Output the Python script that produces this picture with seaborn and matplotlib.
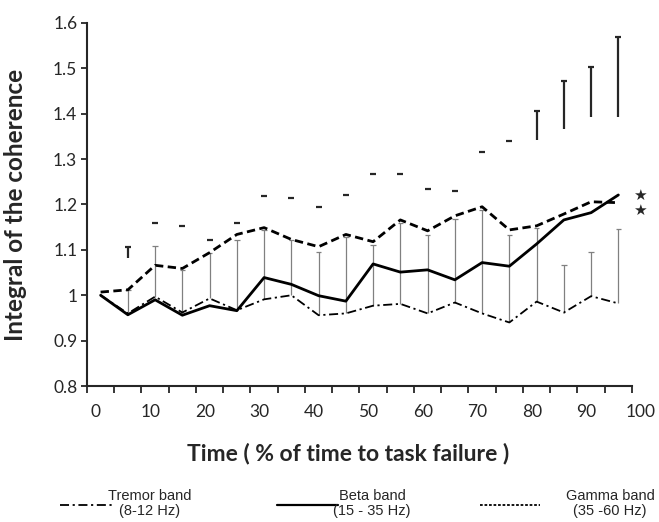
import numpy as np
import seaborn as sns
import matplotlib.pyplot as plt
from matplotlib.lines import Line2D
from matplotlib.transforms import ScaledTranslation

# time points (% of time to task failure), one per 5% bin
time_pct = [2.5, 7.5, 12.5, 17.5, 22.5, 27.5, 32.5, 37.5, 42.5, 47.5,
            52.5, 57.5, 62.5, 67.5, 72.5, 77.5, 82.5, 87.5, 92.5, 97.5]

tremor = [1.000, 0.960, 0.997, 0.962, 0.993, 0.967, 0.991, 1.000, 0.956, 0.960,
          0.977, 0.981, 0.960, 0.984, 0.960, 0.940, 0.986, 0.962, 0.998, 0.982]
beta = [1.000, 0.957, 0.990, 0.956, 0.977, 0.966, 1.039, 1.024, 0.999, 0.987,
        1.069, 1.051, 1.056, 1.034, 1.072, 1.064, 1.113, 1.166, 1.182, 1.221]
gamma = [1.007, 1.012, 1.066, 1.059, 1.094, 1.134, 1.149, 1.123, 1.107, 1.134,
         1.118, 1.166, 1.142, 1.175, 1.195, 1.144, 1.153, 1.179, 1.206, 1.204]

# upper ends of the error bars
tremor_upper = [np.nan, 1.012, 1.109, 1.055, 1.094, 1.122, 1.144, 1.122, 1.096, 1.129,
                1.111, 1.159, 1.133, 1.168, 1.188, 1.133, 1.148, 1.067, 1.096, 1.146]
gamma_upper = [np.nan, 1.106, 1.159, 1.153, 1.122, 1.159, 1.219, 1.214, 1.195, 1.221,
               1.267, 1.267, 1.234, 1.230, 1.316, 1.340, 1.406, 1.472, 1.503, 1.569]
# lowest still-visible part of the (faded) gamma error bar
gamma_visible_low = [np.nan, 1.082, np.nan, np.nan, np.nan, np.nan, np.nan, np.nan, np.nan, np.nan,
                     np.nan, np.nan, np.nan, np.nan, np.nan, np.nan, 1.342, 1.366, 1.393, 1.393]

# significance stars next to the beta and gamma ends
star_y = [1.221, 1.186]

band_labels = ['Tremor band\n(8-12 Hz)', 'Beta band\n(15 - 35 Hz)', 'Gamma band\n(35 -60 Hz)']

sns.set_style("ticks")
plt.rcParams['font.family'] = ['Lato', 'DejaVu Sans']

W, H = 659, 522
fig = plt.figure(figsize=(W / 100, H / 100), dpi=100)
ax = fig.add_axes([0.132, 0.2605, 0.827, 0.6955])

x = np.array(time_pct)

# error bars (drawn first so lines sit on top)
t_low = np.array(tremor)
t_up = np.array(tremor_upper)
ax.vlines(x, t_low, t_up, color='0.5', lw=0.9)
ax.hlines(t_up, x - 0.5, x + 0.5, color='0.5', lw=0.9)

g_up = np.array(gamma_upper)
g_vis = np.array(gamma_visible_low)
ax.vlines(x, g_vis, g_up, color='0.15', lw=1.6)
ax.hlines(g_up, x - 0.55, x + 0.55, color='0.15', lw=1.6)

tremor_ls = (0, (5, 2, 1.2, 2))
gamma_ls = (0, (3, 1.6))
sns.lineplot(x=x, y=tremor, ax=ax, color='black', lw=1.3, linestyle=tremor_ls)
sns.lineplot(x=x, y=gamma, ax=ax, color='black', lw=2.0, linestyle=gamma_ls)
sns.lineplot(x=x, y=beta, ax=ax, color='black', lw=2.0)

ax.text(101.5, np.mean(star_y), '★\n★', ha='center', va='center', fontsize=11,
        linespacing=1.05, clip_on=False, family='DejaVu Sans')

ax.set_xlim(0, 100)
ax.set_ylim(0.8, 1.6)
ax.set_xticks(np.arange(0, 101, 10))
ax.set_xticks(np.arange(5, 100, 10), minor=True)
ax.set_yticks(np.arange(0.8, 1.61, 0.1))
ax.set_yticklabels(['0.8', '0.9', '1', '1.1', '1.2', '1.3', '1.4', '1.5', '1.6'])
ax.tick_params(axis='x', which='both', length=5, width=1.3, direction='out',
               labelsize=12.5, pad=8)
ax.tick_params(axis='y', length=4, width=1.3, direction='out', labelsize=12.5, pad=3)
for lab in ax.get_xticklabels():
    lab.set_transform(lab.get_transform() + ScaledTranslation(0.09, 0, fig.dpi_scale_trans))

sns.despine(ax=ax)
for s in ['left', 'bottom']:
    ax.spines[s].set_linewidth(1.5)

ax.set_ylabel('Integral of the coherence', fontsize=17.5, fontweight='bold')
ax.yaxis.set_label_coords(-0.11, 0.5)
ax.set_xlabel('Time ( % of time to task failure )', fontsize=16.5, fontweight='bold')
ax.xaxis.set_label_coords(0.48, -0.185)
ax.xaxis.label.set_va('center')

# legend below the axes, laid out by hand like the original
legend_styles = [dict(lw=1.3, linestyle=tremor_ls), dict(lw=1.6),
                 dict(lw=1.3, linestyle=(0, (1.5, 1)))]
sample_px = [(60, 112), (277, 338), (480, 540)]
text_px = [150, 372, 610]
for lbl, st, (x0, x1), tx in zip(band_labels, legend_styles, sample_px, text_px):
    fig.add_artist(Line2D([x0 / W, x1 / W], [1 - 505 / H] * 2, color='black', **st))
    fig.text(tx / W, 1 - 503.5 / H, lbl, ha='center', va='center', multialignment='center',
             family='Liberation Sans', fontsize=10.5, linespacing=1.0)

fig.savefig('out.png', dpi=100)
